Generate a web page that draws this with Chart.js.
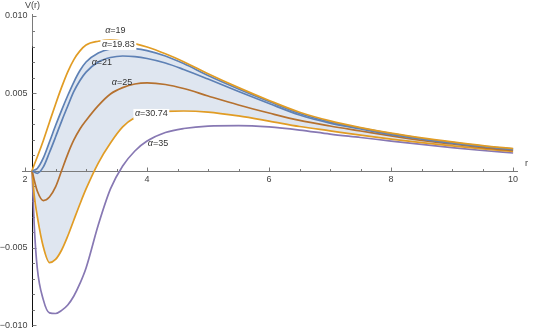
<!DOCTYPE html>
<html>
<head>
<meta charset="utf-8">
<script src="https://cdn.jsdelivr.net/npm/chart.js@4.4.1/dist/chart.umd.min.js"></script>
<style>
body { margin: 0; background: #fff; }
</style>
</head>
<body>
<canvas id="grafico" width="535" height="329"></canvas>
<script>
// valores
var r = [2.115, 2.15, 2.2, 2.3, 2.4, 2.5, 2.6, 2.7, 2.8, 2.9, 3.0, 3.2, 3.4, 3.6, 3.8, 4.0, 4.3, 4.6, 5.0, 5.5, 6.0, 6.5, 7.0, 7.5, 8.0, 8.5, 9.0, 9.5, 10.0];
var v19 = [0, 0.00037, 0.00087, 0.00194, 0.00312, 0.00428, 0.00538, 0.00637, 0.00716, 0.00772, 0.00810, 0.00834, 0.00842, 0.00835, 0.00819, 0.00797, 0.00753, 0.00702, 0.00625, 0.00535, 0.00452, 0.00376, 0.00320, 0.00277, 0.00241, 0.00211, 0.00185, 0.00161, 0.00141];
var v1983 = [0, 0.00003, 0.00013, 0.00081, 0.00184, 0.00290, 0.00390, 0.00484, 0.00571, 0.00645, 0.00700, 0.00758, 0.00784, 0.00790, 0.00787, 0.00774, 0.00739, 0.00690, 0.00613, 0.00526, 0.00445, 0.00368, 0.00313, 0.00274, 0.00239, 0.00206, 0.00181, 0.00158, 0.00139];
var v21 = [0, -0.00010, -0.00018, 0.00023, 0.00116, 0.00216, 0.00319, 0.00416, 0.00510, 0.00581, 0.00635, 0.00700, 0.00729, 0.00739, 0.00735, 0.00723, 0.00694, 0.00652, 0.00590, 0.00510, 0.00432, 0.00358, 0.00306, 0.00268, 0.00232, 0.00203, 0.00177, 0.00155, 0.00135];
var v25 = [0, -0.00061, -0.00132, -0.00194, -0.00171, -0.00106, 0, 0.00106, 0.00197, 0.00268, 0.00323, 0.00419, 0.00494, 0.00535, 0.00558, 0.00565, 0.00555, 0.00529, 0.00481, 0.00423, 0.00371, 0.00323, 0.00287, 0.00255, 0.00223, 0.00194, 0.00171, 0.00148, 0.00129];
var v3074 = [0, -0.00158, -0.00294, -0.00494, -0.00594, -0.00574, -0.00513, -0.00423, -0.00319, -0.00216, -0.00119, 0.00048, 0.00177, 0.00281, 0.00342, 0.00371, 0.00381, 0.00384, 0.00377, 0.00352, 0.00319, 0.00284, 0.00256, 0.00228, 0.00203, 0.00180, 0.00159, 0.00140, 0.00123];
var v35 = [0, -0.00350, -0.00629, -0.00835, -0.00919, -0.00923, -0.00903, -0.00868, -0.00810, -0.00729, -0.00629, -0.00352, -0.00119, 0.00029, 0.00126, 0.00190, 0.00245, 0.00271, 0.00287, 0.00290, 0.00281, 0.00261, 0.00235, 0.00213, 0.00190, 0.00168, 0.00148, 0.00129, 0.00113];

var nombres = ['19', '19.83', '21', '25', '30.74', '35'];
var colores = ['#e19c24', '#5e81b5', '#5e81b5', '#b5712f', '#e19c24', '#8778b3'];
// posicion de las etiquetas (r, V)
var etiquetaR = [3.48, 3.53, 3.26, 3.59, 4.07, 4.18];
var etiquetaV = [0.00906, 0.0081, 0.00694, 0.00571, 0.00365, 0.00177];
var etiquetaFondo = [false, true, false, false, true, false];

var ticksX = [2, 4, 6, 8, 10];
var ticksY = [-0.010, -0.005, 0.005, 0.010];

var series = [v19, v1983, v21, v25, v3074, v35];

function puntos(vals) {
	var p = [];
	for (var i in r) {
		p.push({x: r[i], y: vals[i]});
	}
	return p;
}

var datasets = [];
for (var k = 0; k < series.length; k++) {
	datasets.push({
		label: 'α=' + nombres[k],
		data: puntos(series[k]),
		borderColor: colores[k],
		borderWidth: 1.7,
		pointRadius: 0,
		fill: false,
		cubicInterpolationMode: 'monotone'
	});
}
// zona sombreada entre alfa=19.83 y alfa=30.74
datasets[1].fill = 4;
datasets[1].backgroundColor = 'rgba(94, 129, 181, 0.2)';

var fuente = '9px "Liberation Sans", Arial, sans-serif';

var ejes = {
	id: 'ejes',
	beforeDatasetsDraw: function(chart) {
		var ctx = chart.ctx;
		var sx = chart.scales.x, sy = chart.scales.y;
		var x0 = Math.round(sx.getPixelForValue(r[0])) + 0.5;
		var y0 = Math.round(sy.getPixelForValue(0)) + 0.5;
		ctx.save();
		ctx.lineWidth = 1;
		ctx.strokeStyle = '#7a7a7a';
		ctx.beginPath();
		ctx.moveTo(sx.left, y0);
		ctx.lineTo(sx.right, y0);
		ctx.moveTo(x0, sy.top);
		ctx.lineTo(x0, sy.bottom);
		ctx.stroke();
		// tramo oscuro del eje vertical
		ctx.strokeStyle = '#111';
		ctx.beginPath();
		ctx.moveTo(x0, sy.getPixelForValue(0.008));
		ctx.lineTo(x0, sy.bottom);
		ctx.stroke();

		ctx.strokeStyle = '#7a7a7a';
		ctx.beginPath();
		for (var t = 2; t <= 10.001; t += 0.5) {
			var px = Math.round(sx.getPixelForValue(t)) + 0.5;
			var largo = (Math.abs(t % 2) < 0.01) ? 4 : 2.5;
			ctx.moveTo(px, y0);
			ctx.lineTo(px, y0 - largo);
		}
		for (var j = -10; j <= 10; j++) {
			var py = Math.round(sy.getPixelForValue(j / 1000)) + 0.5;
			var l = (j % 5 === 0) ? 4 : 2.5;
			ctx.moveTo(x0, py);
			ctx.lineTo(x0 + l, py);
		}
		ctx.stroke();

		ctx.fillStyle = '#444';
		ctx.font = fuente;
		ctx.textAlign = 'center';
		ctx.textBaseline = 'top';
		ticksX.forEach(function(t) {
			ctx.fillText(String(t), sx.getPixelForValue(t), y0 + 4);
		});
		ctx.textAlign = 'right';
		ctx.textBaseline = 'middle';
		ticksY.forEach(function(t) {
			ctx.fillText(t.toFixed(3).replace('-', '\u2212'), x0 - 5, sy.getPixelForValue(t));
		});
		ctx.textAlign = 'left';
		ctx.fillText('r', sx.right + 7, y0 - 8);
		ctx.textAlign = 'center';
		ctx.fillText('V(r)', x0, 6);
		ctx.restore();
	},
	afterDatasetsDraw: function(chart) {
		var ctx = chart.ctx;
		var sx = chart.scales.x, sy = chart.scales.y;
		ctx.save();
		ctx.textBaseline = 'middle';
		ctx.textAlign = 'left';
		for (var k = 0; k < nombres.length; k++) {
			var px = sx.getPixelForValue(etiquetaR[k]);
			var py = sy.getPixelForValue(etiquetaV[k]);
			ctx.font = 'italic ' + fuente;
			var wa = ctx.measureText('α').width;
			ctx.font = fuente;
			var wb = ctx.measureText('=' + nombres[k]).width;
			var x1 = px - (wa + wb) / 2;
			if (etiquetaFondo[k]) {
				ctx.fillStyle = '#fff';
				ctx.fillRect(x1 - 1.5, py - 5, wa + wb + 3, 10);
			}
			ctx.fillStyle = '#333';
			ctx.font = 'italic ' + fuente;
			ctx.fillText('α', x1, py);
			ctx.font = fuente;
			ctx.fillText('=' + nombres[k], x1 + wa, py);
		}
		ctx.restore();
	}
};

var ctx = document.getElementById('grafico');

var grafico = new Chart(ctx, {
	type: 'line',
	data: { datasets: datasets },
	options: {
		responsive: false,
		animation: false,
		layout: { padding: { left: 22, right: 17, top: 14, bottom: 2 } },
		scales: {
			x: { type: 'linear', min: 1.95, max: 10.08, display: false },
			y: { type: 'linear', min: -0.0101, max: 0.0101, display: false }
		},
		plugins: {
			legend: { display: false },
			tooltip: { enabled: false },
			filler: { drawTime: 'beforeDatasetsDraw' }
		}
	},
	plugins: [ejes]
});
</script>
</body>
</html>
